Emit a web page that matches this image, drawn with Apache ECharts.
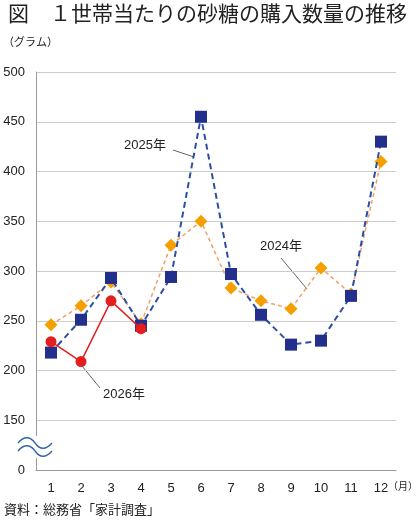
<!DOCTYPE html>
<html>
<head>
<meta charset="utf-8">
<script src="https://cdn.jsdelivr.net/npm/echarts@6/dist/echarts.min.js"></script>
<style>
  html, body { margin: 0; padding: 0; background: #fff; }
  #chart { width: 420px; height: 522px; }
</style>
</head>
<body>
<div id="chart"></div>
<script>
// 月
const months = ['1', '2', '3', '4', '5', '6', '7', '8', '9', '10', '11', '12']
// 購入数量（グラム）
const y2024 = [246, 265, 289, 247, 326, 350, 283, 270, 262, 303, 277, 410]
const y2025 = [218, 251, 293, 245, 294, 455, 297, 256, 226, 230, 275, 430]
const y2026 = [229, 209, 270, 242]
// 軸の目盛り（100 の位置を 0 として表示）
const yMin = 100
const yMax = 500
const yStep = 50

const font = '"Liberation Sans", "Noto Sans CJK JP", sans-serif'
const jpFont = '"Noto Sans CJK JP", sans-serif'
const chart = echarts.init(document.getElementById('chart'), null, { renderer: 'canvas' })

// 波線（省略記号）を2つのベジェ曲線で描く
const wave = (y) => [
  {
    type: 'bezierCurve',
    shape: { x1: 18, y1: y, cpx1: 24, cpy1: y - 7, cpx2: 30, cpy2: y - 7, x2: 35, y2: y },
    style: { stroke: '#2f62a8', lineWidth: 1.3, fill: null }, z: 11
  },
  {
    type: 'bezierCurve',
    shape: { x1: 35, y1: y, cpx1: 40, cpy1: y + 7, cpx2: 46, cpy2: y + 7, x2: 52, y2: y },
    style: { stroke: '#2f62a8', lineWidth: 1.3, fill: null }, z: 11
  }
]

chart.setOption({
  backgroundColor: '#fff',
  animation: false,
  textStyle: { fontFamily: font },
  grid: { left: 36, right: 24, top: 72, bottom: 52 },
  xAxis: {
    type: 'category',
    data: months,
    boundaryGap: true,
    axisLine: { lineStyle: { color: '#999', width: 1 } },
    axisTick: { show: false },
    axisLabel: { color: '#222', fontSize: 13, margin: 12 }
  },
  yAxis: {
    type: 'value',
    min: yMin,
    max: yMax,
    interval: yStep,
    axisLine: { show: true, lineStyle: { color: '#999', width: 1 } },
    axisTick: { show: false },
    splitLine: { lineStyle: { color: '#ccc', width: 1 } },
    axisLabel: {
      color: '#222',
      fontSize: 13,
      margin: 11,
      formatter: (v) => (v === yMin ? '0' : String(v))
    }
  },
  series: [
    {
      name: '2024年',
      type: 'line',
      data: y2024,
      symbol: 'diamond',
      symbolSize: 13,
      itemStyle: { color: '#f5a000' },
      lineStyle: { color: '#f0a06a', width: 1.5, type: [4, 3] },
      z: 2
    },
    {
      name: '2025年',
      type: 'line',
      data: y2025,
      symbol: 'rect',
      symbolSize: 12,
      itemStyle: { color: '#222f8c' },
      lineStyle: { color: '#2d4fa3', width: 2, type: [6, 4] },
      z: 3
    },
    {
      name: '2026年',
      type: 'line',
      data: y2026,
      symbol: 'circle',
      symbolSize: 11,
      itemStyle: { color: '#e41e1e' },
      lineStyle: { color: '#e41e1e', width: 1.5 },
      z: 4
    }
  ],
  graphic: [
    {
      type: 'text', left: 8, top: 3,
      style: { text: '図　１世帯当たりの砂糖の購入数量の推移', fontSize: 21, fontFamily: jpFont, fill: '#222' }
    },
    {
      type: 'text', left: 3, top: 36,
      style: { text: '（グラム）', fontSize: 11, fontFamily: jpFont, fill: '#222' }
    },
    {
      type: 'text', right: 2, top: 481,
      style: { text: '（月）', fontSize: 10, fontFamily: jpFont, fill: '#222' }
    },
    {
      type: 'text', left: 4, top: 503,
      style: { text: '資料：総務省「家計調査」', fontSize: 13, fontFamily: jpFont, fill: '#222' }
    },
    // 系列ラベルと引き出し線
    {
      type: 'text', left: 124, top: 139,
      style: { text: '2025年', fontSize: 13, fontFamily: font, fill: '#222' }
    },
    {
      type: 'line', shape: { x1: 173, y1: 150, x2: 194, y2: 157 },
      style: { stroke: '#666', lineWidth: 1 }
    },
    {
      type: 'text', left: 260, top: 240,
      style: { text: '2024年', fontSize: 13, fontFamily: font, fill: '#222' }
    },
    {
      type: 'line', shape: { x1: 281, y1: 258, x2: 307, y2: 289 },
      style: { stroke: '#666', lineWidth: 1 }
    },
    {
      type: 'text', left: 103, top: 388,
      style: { text: '2026年', fontSize: 13, fontFamily: font, fill: '#222' }
    },
    {
      type: 'line', shape: { x1: 82, y1: 366, x2: 100, y2: 388 },
      style: { stroke: '#666', lineWidth: 1 }
    },
    // 軸の省略記号
    {
      type: 'rect', shape: { x: 30, y: 436, width: 12, height: 22 },
      style: { fill: '#fff' }, z: 10
    }
  ].concat(wave(443), wave(451))
})
</script>
</body>
</html>
